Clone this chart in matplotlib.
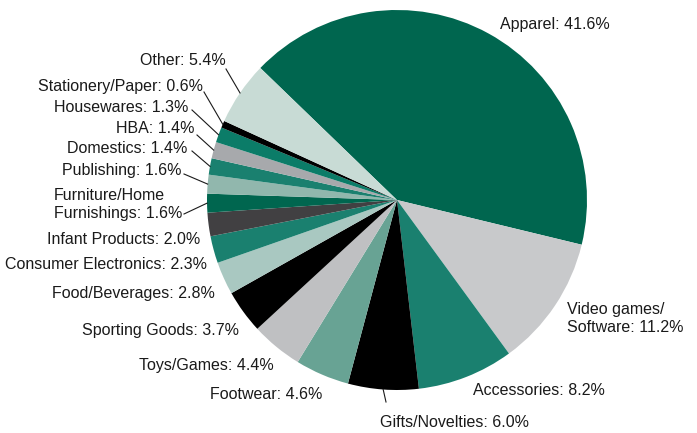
import numpy as np
import matplotlib.pyplot as plt

# category shares, clockwise from the top-left
categories = ["Apparel", "Video games/\nSoftware", "Accessories", "Gifts/Novelties",
              "Footwear", "Toys/Games", "Sporting Goods", "Food/Beverages",
              "Consumer Electronics", "Infant Products", "Furniture/Home\nFurnishings",
              "Publishing", "Domestics", "HBA", "Housewares", "Stationery/Paper", "Other"]
shares = [41.6, 11.2, 8.2, 6.0, 4.6, 4.4, 3.7, 2.8, 2.3, 2.0, 1.6, 1.6, 1.4, 1.4, 1.3, 0.6, 5.4]
colors = ["#00664f", "#c8c9cb", "#1a806f", "#000000", "#68a394", "#bfc0c2", "#000000",
          "#a9c8c1", "#1a806f", "#414042", "#00664f", "#91b7ad", "#1a806f", "#a7a9ac",
          "#0b7c68", "#000000", "#c8dbd5"]

W, H = 697, 433
CX, CY, R = 397, 200, 190

# label anchors in pixels from the top-left: x, last-line baseline, alignment
label_pos = [(500, 29, "left"), (567, 332, "left"), (473, 395, "left"), (380, 427, "left"),
             (322, 399, "right"), (274, 370, "right"), (239, 335, "right"), (215, 298, "right"),
             (207, 269, "right"), (200, 244, "right"), (54, 218, "left"), (182, 175, "right"),
             (187, 153, "right"), (195, 133, "right"), (188, 112, "right"), (203, 91, "right"),
             (226, 65, "right")]
# where leader lines start (None = no leader)
leader_from = [None, None, None, (386, 402), None, None, None, None, None, None,
               (184, 214), (184, 174), (192, 151), (197, 135), (192, 110), (204, 92), (226, 69)]

plt.rcParams['font.family'] = ['Liberation Sans', 'DejaVu Sans']

fig = plt.figure(figsize=(W / 100, H / 100), dpi=100)
ax = fig.add_axes([0, 0, 1, 1])

wedges, _ = ax.pie(shares, colors=colors, startangle=136, counterclock=False,
                   center=(CX, H - CY), radius=R, frame=True,
                   wedgeprops=dict(linewidth=0))
ax.set_xlim(0, W)
ax.set_ylim(0, H)
ax.axis("off")

for name, val, (x, y, ha), lead, w in zip(categories, shares, label_pos, leader_from, wedges):
    ax.text(x, H - y, f"{name}: {val:.1f}%", ha=ha, va="baseline",
            fontsize=11.5, color="#1a1a1a", linespacing=1.25)
    if lead is not None:
        mid = np.deg2rad((w.theta1 + w.theta2) / 2)
        ex = CX + R * np.cos(mid)
        ey = (H - CY) + R * np.sin(mid)
        ax.plot([lead[0], ex], [H - lead[1], ey], color="#1a1a1a", lw=0.8)

fig.savefig("out.png", dpi=100)
